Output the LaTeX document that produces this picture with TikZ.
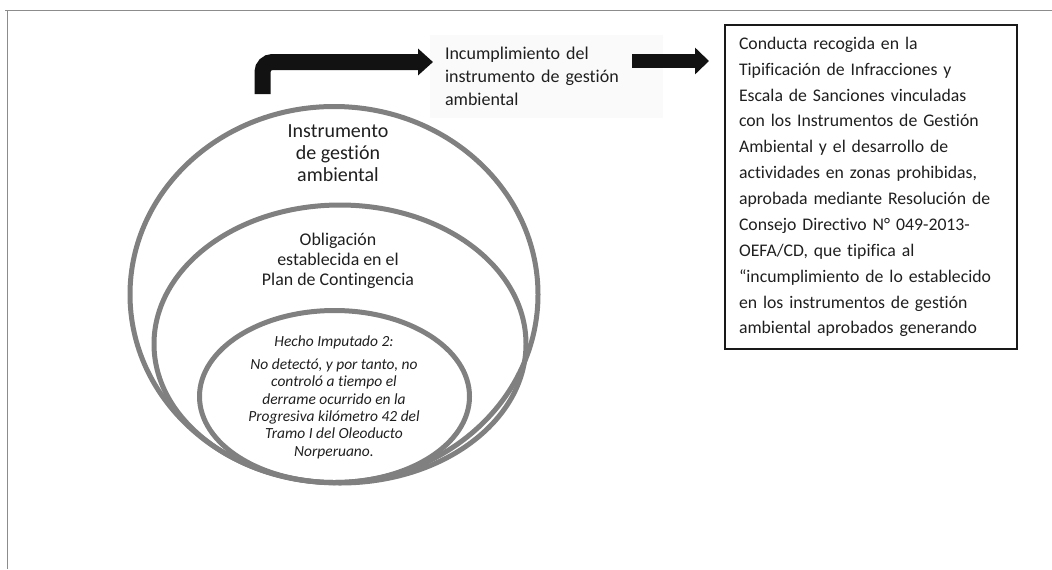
\documentclass[tikz,border=0pt]{standalone}
\usepackage{fontspec}
\setmainfont{Carlito}[Ligatures=NoCommon]
\usetikzlibrary{shapes.geometric,arrows.meta}

\begin{document}
\begin{tikzpicture}[x=0.75pt,y=-0.75pt]%
  \tikzstyle{ring}=[ellipse,draw=black!50,line width=3.75pt,inner sep=0]
  \tikzstyle{frame}=[draw=black!45,line width=0.75pt]
  \tikzstyle{fatarrow}=[draw=black!93,line width=12pt,-{Triangle[length=11.25pt,width=19.5pt]}]
  \tikzstyle{txt}=[text=black!88,align=center,inner sep=0]
  \useasboundingbox (0,0) rectangle (1052,569);
  \draw[frame] (5,10) -- (1052,10);
  \draw[frame] (7,10) -- (7,569);
  % rings
  \node(outer)[ring,minimum width=306pt,minimum height=282pt] at (334,294.5) {};
  \node(middle)[ring,minimum width=279pt,minimum height=208.5pt] at (340,344) {};
  \node(inner)[ring,minimum width=202.5pt,minimum height=129pt] at (334.5,396.5) {};
  \node(ins)[txt,font=\fontsize{15}{16.5}\selectfont] at (338,153)
    {Instrumento\\de gestión\\ambiental};
  \node(obl)[txt,font=\fontsize{13.4}{15.2}\selectfont] at (338,261)
    {Obligación\\establecida en el\\Plan de Contingencia};
  \node(hec)[txt,font=\itshape\fontsize{11.6}{13}\selectfont] at (334,397)
    {Hecho Imputado 2:\\[4.3pt]No detectó, y por tanto, no\\controló a tiempo el\\derrame ocurrido en la\\Progresiva kilómetro 42 del\\Tramo I del Oleoducto\\Norperuano.};
  % texts on top
  \node(inc)[txt,fill=black!2,align=left,text width=152.25pt,inner xsep=11.25pt,
    minimum height=62.25pt,font=\fontsize{13.5}{17.25}\selectfont] at (546.5,76.5)
    {Incumplimiento del\\instrumento de gestión\\ambiental};
  \node(tipif)[txt,draw=black!90,line width=1pt,align=left,text width=198pt,inner xsep=10.5pt,
    minimum height=243pt,font=\fontsize{13.3}{19.4}\selectfont] at (871,187)
    {Conducta recogida en la\\Tipificación de Infracciones y\\Escala de Sanciones vinculadas\\con los Instrumentos de Gestión\\Ambiental y el desarrollo de\\actividades en zonas prohibidas,\\aprobada mediante Resolución de\\Consejo Directivo N° 049-2013-\\OEFA/CD, que tipifica al\\“incumplimiento de lo establecido\\en los instrumentos de gestión\\ambiental aprobados generando};
  % arrows
  \coordinate(foot) at (262.5,94);
  \coordinate(tip1) at (433,62);
  \coordinate(tail2) at (632,61);
  \coordinate(tip2) at (709,61);
  \draw[fatarrow,rounded corners=7.5pt] (foot) |- (tip1);
  \draw[fatarrow,line width=10.5pt,-{Triangle[length=10.5pt,width=19.5pt]}] (tail2) -- (tip2);
\end{tikzpicture}
\end{document}
